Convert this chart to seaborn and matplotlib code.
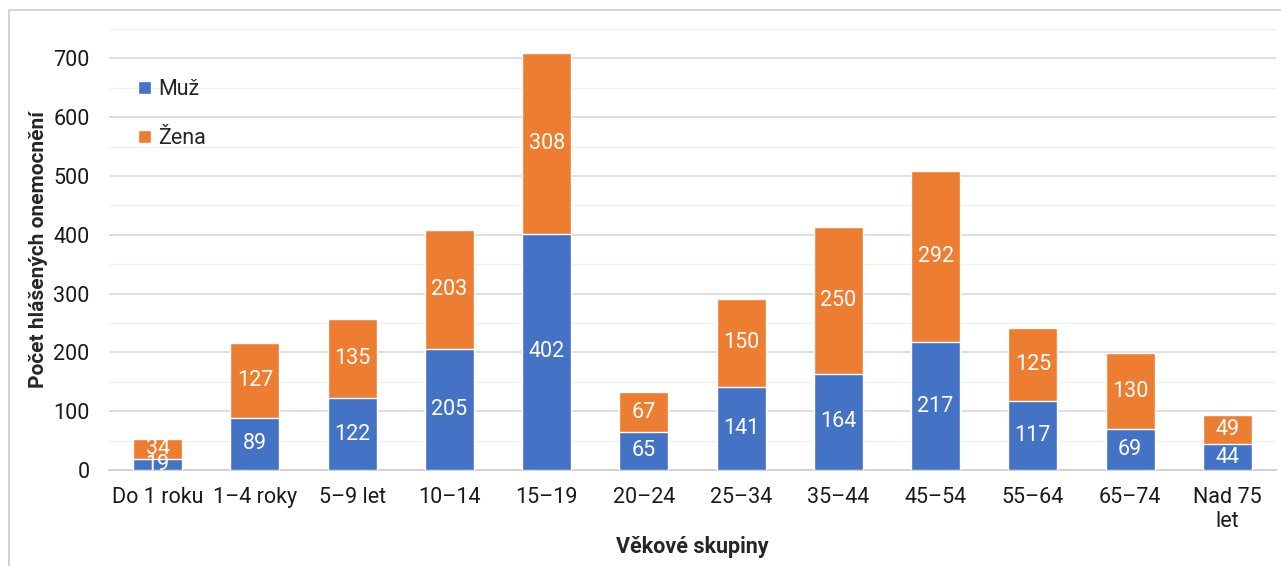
import matplotlib
matplotlib.use("Agg")
import matplotlib.pyplot as plt
import pandas as pd
import seaborn as sns
from matplotlib.lines import Line2D
from matplotlib.patches import Patch
from matplotlib.ticker import MultipleLocator

# ---------------------------------------------------------------------------
# Data
# ---------------------------------------------------------------------------

age_groups = [
    "Do 1 roku", "1–4 roky", "5–9 let", "10–14", "15–19", "20–24",
    "25–34", "35–44", "45–54", "55–64", "65–74", "Nad 75\nlet",
]
muz = [19, 89, 122, 205, 402, 65, 141, 164, 217, 117, 69, 44]
zena = [34, 127, 135, 203, 308, 67, 150, 250, 292, 125, 130, 49]

series_names = ["Muž", "Žena"]
blue = "#4472C4"
orange = "#ED7D31"

sns.set_theme(style="white")
plt.rcParams["font.family"] = ["Roboto", "DejaVu Sans"]

df = pd.DataFrame({"skupina": age_groups, "muz": muz, "zena": zena})
df["total"] = df["muz"] + df["zena"]

fig = plt.figure(figsize=(12.81, 5.66), dpi=100)
ax = fig.add_axes([109 / 1281, 96 / 566, 1167 / 1281, 441 / 566])

# stacked bars: totals in orange, men drawn over them in blue
sns.barplot(data=df, x="skupina", y="total", color=orange, width=0.505,
            saturation=1, ax=ax, zorder=3)
sns.barplot(data=df, x="skupina", y="muz", color=blue, width=0.505,
            saturation=1, ax=ax, zorder=3)

for i, row in df.iterrows():
    ax.text(i, row["muz"] / 2, str(row["muz"]), ha="center", va="center",
            color="white", fontsize=15.5, zorder=4)
    ax.text(i, row["muz"] + row["zena"] / 2, str(row["zena"]), ha="center",
            va="center", color="white", fontsize=15.5, zorder=4)

ax.set_ylim(0, 750)
ax.set_xlim(-0.5, len(age_groups) - 0.5)
ax.yaxis.set_major_locator(MultipleLocator(100))
ax.yaxis.set_minor_locator(MultipleLocator(50))
ax.grid(axis="y", which="major", color="#d9d9d9", linewidth=1.2, zorder=0)
ax.grid(axis="y", which="minor", color="#f0f0f0", linewidth=1, zorder=0)
ax.set_axisbelow(True)

for side in ["top", "right", "left"]:
    ax.spines[side].set_visible(False)
ax.spines["bottom"].set_color("#d0d0d0")
ax.spines["bottom"].set_linewidth(1.3)
ax.tick_params(axis="both", which="both", length=0, labelsize=15.5,
               colors="#1a1a1a")
ax.tick_params(axis="x", pad=12)
ax.tick_params(axis="y", pad=14)
ax.set_yticklabels([f"{int(t)}" for t in ax.get_yticks()])

ax.set_xlabel("Věkové skupiny", fontsize=15.5, fontweight="bold", labelpad=3)
ax.set_ylabel("Počet hlášených onemocnění", fontsize=15, fontweight="bold",
              labelpad=4)

handles = [Patch(facecolor=blue), Patch(facecolor=orange)]
ax.legend(handles, series_names, loc="upper left", bbox_to_anchor=(0.008, 0.93),
          frameon=False, fontsize=15.5, handlelength=0.6, handleheight=0.6,
          handletextpad=0.35, labelspacing=1.3)

# thin gray frame (top and left edges visible in the reference)
frame_kw = dict(transform=fig.transFigure, color="#d0d0d0", linewidth=1.3)
fig.add_artist(Line2D([9 / 1281, 1.0], [1 - 10 / 566, 1 - 10 / 566], **frame_kw))
fig.add_artist(Line2D([9 / 1281, 9 / 1281], [0.0, 1 - 10 / 566], **frame_kw))

fig.savefig("out.png", dpi=100)
